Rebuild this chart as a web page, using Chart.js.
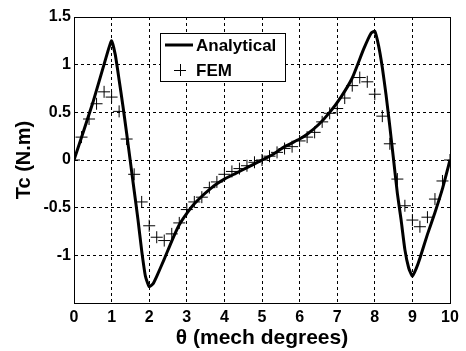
<!DOCTYPE html>
<html><head><meta charset="utf-8">
<script src="https://cdn.jsdelivr.net/npm/chart.js@4"></script>
<style>html,body{margin:0;padding:0;background:#fff;}canvas{display:block;}</style>
</head><body>
<canvas id="c" width="466" height="351"></canvas>
<script>
// Analytical curve
const analyticalX = [0, 0.5, 0.9, 1.0, 1.1, 1.2, 1.3, 1.4, 1.5, 1.6, 1.7, 1.8, 1.9, 2.0, 2.1, 2.2, 2.4, 2.6, 2.8, 3.0, 3.2, 3.4, 3.6, 3.8, 4.0, 4.3, 4.6, 5.0, 5.3, 5.6, 6.0, 6.2, 6.5, 6.8, 7.1, 7.4, 7.7, 7.9, 8.0, 8.1, 8.2, 8.3, 8.4, 8.5, 8.6, 8.7, 8.8, 8.9, 9.0, 9.1, 9.2, 9.4, 9.6, 9.8, 10];
const analyticalY = [0, 0.6, 1.14, 1.25, 1.1, 0.84, 0.57, 0.28, -0.02, -0.32, -0.62, -0.95, -1.22, -1.33, -1.3, -1.22, -1.04, -0.85, -0.68, -0.56, -0.46, -0.38, -0.31, -0.25, -0.2, -0.14, -0.08, 0, 0.06, 0.14, 0.22, 0.27, 0.37, 0.5, 0.66, 0.86, 1.16, 1.33, 1.35, 1.2, 0.97, 0.68, 0.35, 0.0, -0.35, -0.63, -0.94, -1.13, -1.22, -1.14, -1.03, -0.78, -0.55, -0.3, 0];
// FEM points
const femX = [0, 0.2, 0.4, 0.6, 0.8, 1.0, 1.2, 1.4, 1.6, 1.8, 2.0, 2.2, 2.4, 2.6, 2.8, 3.0, 3.2, 3.4, 3.6, 3.8, 4.0, 4.2, 4.4, 4.6, 4.8, 5.0, 5.2, 5.4, 5.6, 5.8, 6.0, 6.2, 6.4, 6.6, 6.8, 7.0, 7.2, 7.4, 7.6, 7.8, 8.0, 8.2, 8.4, 8.6, 8.8, 9.0, 9.2, 9.4, 9.6, 9.8, 10.0];
const femY = [0, 0.24, 0.43, 0.59, 0.715, 0.66, 0.51, 0.22, -0.15, -0.44, -0.69, -0.81, -0.845, -0.775, -0.66, -0.52, -0.44, -0.39, -0.29, -0.23, -0.15, -0.12, -0.09, -0.06, -0.024, 0.0, 0.04, 0.08, 0.12, 0.14, 0.2, 0.24, 0.29, 0.4, 0.49, 0.54, 0.65, 0.78, 0.865, 0.82, 0.69, 0.46, 0.17, -0.2, -0.48, -0.63, -0.7, -0.6, -0.41, -0.22, 0.0];
const seriesNames = ['Analytical', 'FEM'];
const xTicks = [0,1,2,3,4,5,6,7,8,9,10];
const yTicks = [-1.5,-1,-0.5,0,0.5,1,1.5];
const xTitle = 'θ (mech degrees)';
const yTitle = 'Tc (N.m)';

const FONT = '"Liberation Sans", Arial, sans-serif';

const frameAndLegend = {
  id: 'frameAndLegend',
  afterDraw(chart) {
    const ctx = chart.ctx, a = chart.chartArea;
    ctx.save();
    ctx.strokeStyle = '#000'; ctx.lineWidth = 1;
    ctx.strokeRect(Math.round(a.left)+0.5, Math.round(a.top)+0.5, Math.round(a.right-a.left), Math.round(a.bottom-a.top));
    // legend
    const bx = 160.5, by = 33.5, bw = 125, bh = 48;
    ctx.fillStyle = '#fff'; ctx.fillRect(bx, by, bw, bh);
    ctx.strokeRect(bx, by, bw, bh);
    ctx.strokeStyle = '#000'; ctx.lineWidth = 3;
    ctx.beginPath(); ctx.moveTo(165, 45); ctx.lineTo(193, 45); ctx.stroke();
    ctx.lineWidth = 1;
    ctx.beginPath(); ctx.moveTo(174, 70.5); ctx.lineTo(186, 70.5); ctx.moveTo(180.5, 64); ctx.lineTo(180.5, 76); ctx.stroke();
    ctx.fillStyle = '#000';
    ctx.font = 'bold 17px ' + FONT;
    ctx.textBaseline = 'middle'; ctx.textAlign = 'left';
    ctx.fillText(chart.data.datasets[0].label, 196, 46);
    ctx.fillText(chart.data.datasets[1].label, 196, 71);
    ctx.restore();
  }
};

new Chart(document.getElementById('c'), {
  type: 'scatter',
  data: {
    datasets: [
      {
        label: seriesNames[0],
        data: analyticalX.map((x, i) => ({x, y: analyticalY[i]})),
        showLine: true, borderColor: '#000', borderWidth: 3, pointRadius: 0, tension: 0.15, fill: false
      },
      {
        label: seriesNames[1],
        data: femX.map((x, i) => ({x, y: femY[i]})),
        showLine: false, pointStyle: 'cross', pointRadius: 6, borderColor: '#000', borderWidth: 1, backgroundColor: '#000'
      }
    ]
  },
  plugins: [frameAndLegend],
  options: {
    responsive: false, animation: false, devicePixelRatio: 1,
    layout: { padding: { left: 0, right: 16, top: 17, bottom: 0 } },
    plugins: { legend: { display: false }, tooltip: { enabled: false } },
    scales: {
      x: {
        type: 'linear', min: 0, max: 10,
        afterBuildTicks: s => { s.ticks = xTicks.map(v => ({value: v})); },
        afterFit: s => { s.height = 48; },
        ticks: { color: '#000', padding: 5, font: { family: FONT, size: 16, weight: 'bold' }, maxRotation: 0, autoSkip: false },
        grid: { color: '#000', lineWidth: 1, drawTicks: false },
        border: { color: '#000', dash: [3,3], display: true },
        title: { display: true, text: xTitle, color: '#000', font: { family: FONT, size: 21, weight: 'bold', lineHeight: 1 }, padding: { top: 0, bottom: 2 } }
      },
      y: {
        type: 'linear', min: -1.5, max: 1.5,
        afterBuildTicks: s => { s.ticks = yTicks.map(v => ({value: v})); },
        afterFit: s => { s.width = 74; },
        ticks: { color: '#000', padding: 3, font: { family: FONT, size: 16, weight: 'bold' }, callback: v => v === -1.5 ? '' : String(v) },
        grid: { color: '#000', lineWidth: 1, drawTicks: false },
        border: { color: '#000', dash: [3,3] },
        title: { display: true, text: yTitle, color: '#000', font: { family: FONT, size: 20, weight: 'bold', lineHeight: 1 }, padding: { top: 14, bottom: 0 } }
      }
    }
  }
});
</script>
</body></html>
